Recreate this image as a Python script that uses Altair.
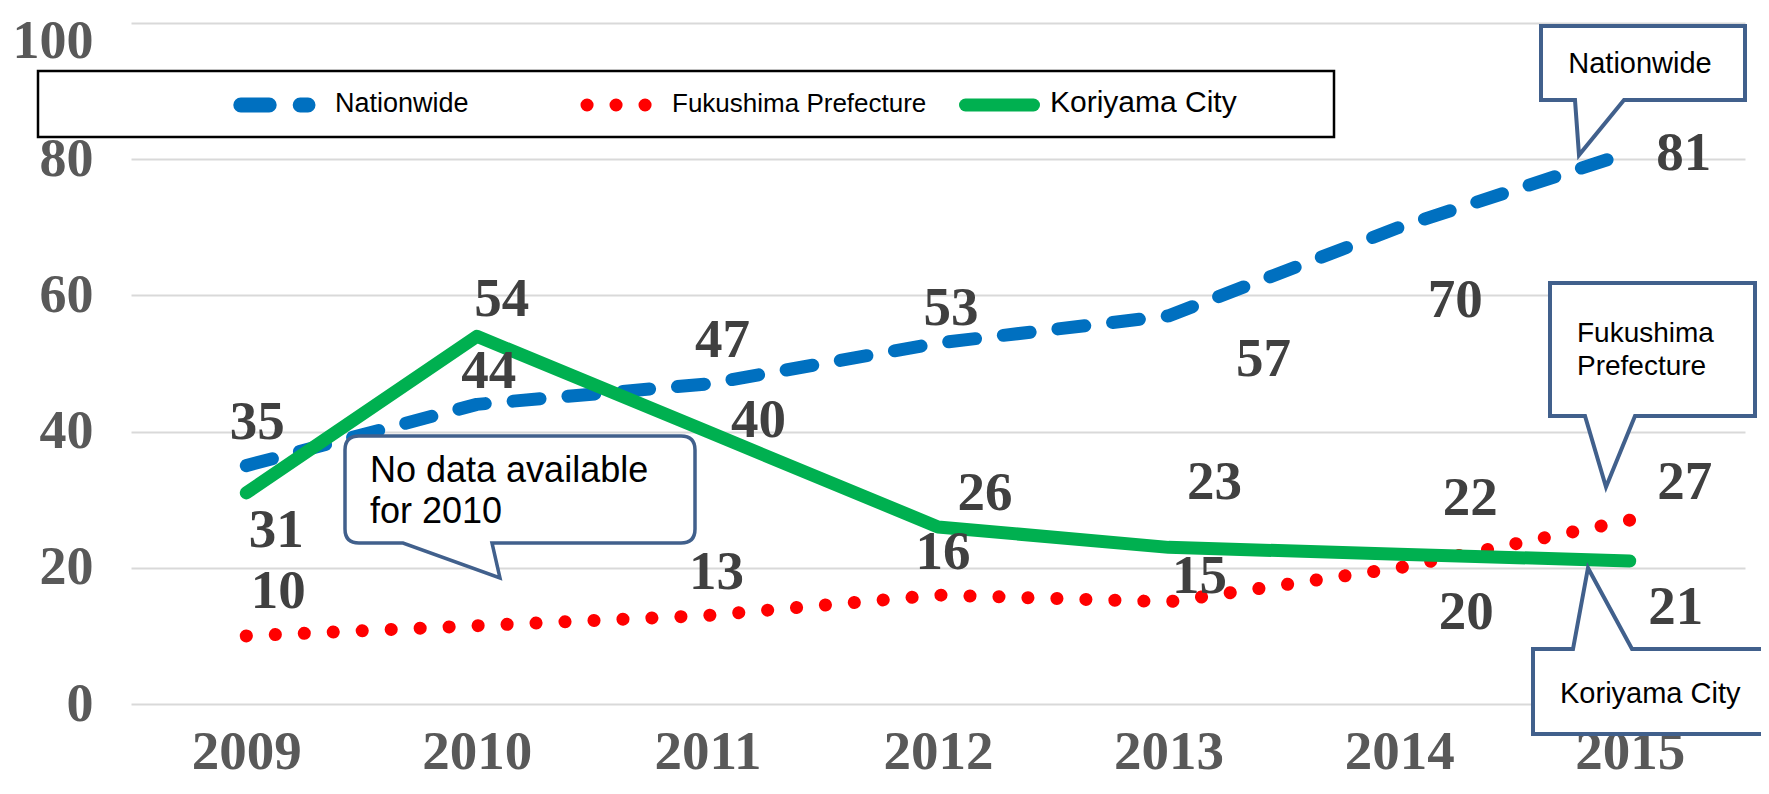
import altair as alt
import pandas as pd

# ---------------- data ----------------
years = ["2009", "2010", "2011", "2012", "2013", "2014", "2015"]
nationwide = [35, 44, 47, 53, 57, 70, 81]
fukushima = [10, None, 13, 16, 15, 20, 27]   # no data for 2010
koriyama = [31, 54, 40, 26, 23, 22, 21]
series_names = ["Nationwide", "Fukushima Prefecture", "Koriyama City"]
y_ticks = [0, 20, 40, 60, 80, 100]

rows = []
for name, vals in zip(series_names, [nationwide, fukushima, koriyama]):
    for yr, v in zip(years, vals):
        if v is not None:
            rows.append({"series": name, "year": yr, "value": v})
df = pd.DataFrame(rows)
one = pd.DataFrame({"k": [0]})

# ---------------- layout / style ----------------
OX, OY = 131, 23          # plot origin in page pixels
W, H = 1614, 681
LABEL_FONT = "Liberation Serif"
SANS = "Liberation Sans"
CALLOUT = "#41608C"

# data-label offsets (pixels, relative to the point)
label_offsets = {
    "Nationwide": {"2009": (11, -44), "2010": (12, -33), "2011": (15, -44), "2012": (13, -35),
                   "2013": (95, 43), "2014": (56, 73), "2015": (54, 1)},
    "Koriyama City": {"2009": (30, 37), "2010": (25, -37), "2011": (51, -12), "2012": (47, -34),
                      "2013": (46, -65), "2014": (71, -56), "2015": (46, 46)},
    "Fukushima Prefecture": {"2009": (32, -45), "2011": (9, -43), "2012": (5, -43),
                             "2013": (31, -26), "2014": (67, 44), "2015": (55, -38)},
}

x_enc = alt.X("year:N", sort=years,
              scale=alt.Scale(type="point", padding=0.5, domain=years),
              axis=alt.Axis(title=None, labelAngle=0, domain=False, ticks=False, grid=False,
                            labelFont=LABEL_FONT, labelFontWeight="bold", labelFontSize=55,
                            labelColor="#595959", labelPadding=21))
y_enc = alt.Y("value:Q", scale=alt.Scale(domain=[0, 100], nice=False),
              axis=alt.Axis(title=None, values=y_ticks, grid=True, gridColor="#D9D9D9",
                            gridWidth=2, domain=False, ticks=False,
                            labelFont=LABEL_FONT, labelFontWeight="bold", labelFontSize=54,
                            labelColor="#595959", labelPadding=38,
                            labelOffset={"condition": {"test": "datum.value == 100", "value": 18},
                                         "value": 0}))

base = alt.Chart(df).encode(x=x_enc, y=y_enc)

blue = base.transform_filter(alt.datum.series == "Nationwide").mark_line(
    color="#0070C0", strokeWidth=13, strokeDash=[27, 28], strokeCap="round", strokeJoin="round")
red = base.transform_filter(alt.datum.series == "Fukushima Prefecture").mark_line(
    color="#FF0000", strokeWidth=13, strokeDash=[0.1, 28.9], strokeCap="round", strokeJoin="round")
green = base.transform_filter(alt.datum.series == "Koriyama City").mark_line(
    color="#00B050", strokeWidth=13, strokeCap="round", strokeJoin="round")

layers = [blue, red, green]

# data labels
for sname, offs in label_offsets.items():
    for yr, (dx, dy) in offs.items():
        layers.append(
            base.transform_filter((alt.datum.series == sname) & (alt.datum.year == yr))
            .mark_text(dx=dx, dy=dy, align="center", baseline="middle", font=LABEL_FONT,
                       fontWeight="bold", fontSize=55, color="#404040")
            .encode(text=alt.Text("value:Q"))
        )


def px(v):
    return v - OX


def py(v):
    return v - OY


# ---------------- legend (manual) ----------------
layers.append(alt.Chart(one).mark_rect(fill="white", stroke="black", strokeWidth=2.5).encode(
    x=alt.value(px(38)), x2=alt.value(px(1334)), y=alt.value(py(71)), y2=alt.value(py(137))))
layers.append(alt.Chart(one).mark_rule(color="#0070C0", strokeWidth=15, strokeDash=[28.4, 31],
                                       strokeCap="round").encode(
    x=alt.value(px(240.8)), x2=alt.value(px(308)), y=alt.value(py(105))))
layers.append(alt.Chart(one).mark_rule(color="#FF0000", strokeWidth=13, strokeDash=[0.1, 28.9],
                                       strokeCap="round").encode(
    x=alt.value(px(587)), x2=alt.value(px(646)), y=alt.value(py(105))))
layers.append(alt.Chart(one).mark_rule(color="#00B050", strokeWidth=13,
                                       strokeCap="round").encode(
    x=alt.value(px(965.5)), x2=alt.value(px(1033.5)), y=alt.value(py(105))))

legend_texts = [("Nationwide", 335, 27), ("Fukushima Prefecture", 672, 26), ("Koriyama City", 1050, 30)]
for txt, lx, fs in legend_texts:
    layers.append(alt.Chart(one).mark_text(text=txt, align="left", baseline="alphabetic",
                                           font=SANS, fontSize=fs, color="black").encode(
        x=alt.value(px(lx)), y=alt.value(py(112))))


# ---------------- callouts ----------------
def poly(points):
    return "M" + " L".join(f"{px(a):.1f},{py(b):.1f}" for a, b in points) + " Z"


nation_path = poly([(1541, 26), (1745, 26), (1745, 100), (1624, 100), (1579, 155), (1575, 100), (1541, 100)])
fuku_path = poly([(1550, 283), (1755, 283), (1755, 416), (1635, 416), (1606, 487), (1585, 416), (1550, 416)])
kori_path = poly([(1533, 649), (1573, 649), (1588, 568), (1632, 649), (1780, 649), (1780, 734), (1533, 734)])

L, R, T, B, r = px(345), px(695), py(436), py(543), 14
nodata_path = (
    f"M{L + r},{T} L{R - r},{T} Q{R},{T} {R},{T + r} L{R},{B - r} Q{R},{B} {R - r},{B} "
    f"L{px(492)},{B} L{px(500)},{py(578)} L{px(403)},{B} L{L + r},{B} Q{L},{B} {L},{B - r} "
    f"L{L},{T + r} Q{L},{T} {L + r},{T} Z"
)

for path, sw in [(nation_path, 4), (fuku_path, 4), (kori_path, 4), (nodata_path, 3.5)]:
    layers.append(alt.Chart(one).mark_point(shape=path, size=4, filled=True, fill="white",
                                            fillOpacity=1, opacity=1, stroke=CALLOUT,
                                            strokeWidth=sw, strokeJoin="miter").encode(
        x=alt.value(0), y=alt.value(0)))

callout_texts = [
    ("Nationwide", 1640, 73, 29, "center"),
    ("Fukushima", 1577, 342, 28, "left"),
    ("Prefecture", 1577, 375, 28, "left"),
    ("Koriyama City", 1560, 703, 29, "left"),
    ("No data available", 370, 482, 36, "left"),
    ("for 2010", 370, 523, 36, "left"),
]
for txt, tx, ty, fs, al in callout_texts:
    layers.append(alt.Chart(one).mark_text(text=txt, align=al, baseline="alphabetic",
                                           font=SANS, fontSize=fs, color="black").encode(
        x=alt.value(px(tx)), y=alt.value(py(ty))))

chart = alt.layer(*layers).properties(
    width=W, height=H,
    autosize=alt.AutoSizeParams(type="none"),
    padding={"left": 123, "top": 15, "right": 16, "bottom": 76},
).configure_view(stroke=None)

chart.save("out.html", embed_options={"renderer": "svg", "actions": False})
